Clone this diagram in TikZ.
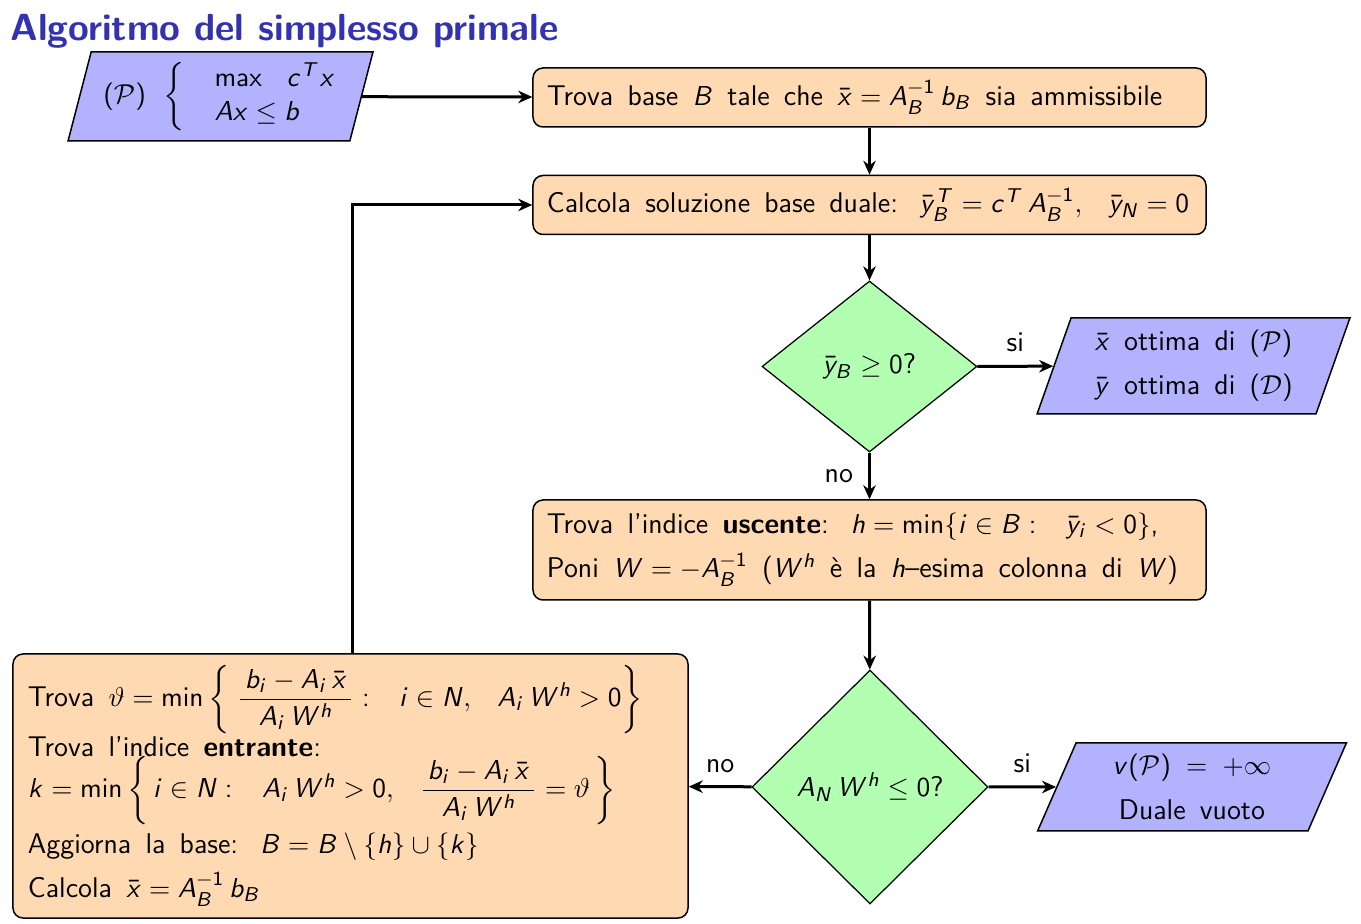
\documentclass[tikz,border=0pt]{standalone}
\usepackage{amsmath,amssymb}
\usetikzlibrary{shapes.geometric,arrows.meta}
\SetSymbolFont{operators}{normal}{OT1}{cmss}{m}{n}
\SetSymbolFont{operators}{bold}{OT1}{cmss}{bx}{n}
\DeclareSymbolFont{sfit}{OT1}{cmss}{m}{sl}
\newcommand\sfl[1]{\DeclareMathSymbol{#1}{\mathalpha}{sfit}{`#1}}
\sfl a\sfl b\sfl c\sfl d\sfl e\sfl f\sfl g\sfl h\sfl i\sfl j\sfl k\sfl l\sfl m
\sfl n\sfl o\sfl p\sfl q\sfl r\sfl s\sfl t\sfl u\sfl v\sfl w\sfl x\sfl y\sfl z
\sfl A\sfl B\sfl C\sfl D\sfl E\sfl F\sfl G\sfl H\sfl I\sfl J\sfl K\sfl L\sfl M
\sfl N\sfl O\sfl P\sfl Q\sfl R\sfl S\sfl T\sfl U\sfl V\sfl W\sfl X\sfl Y\sfl Z
\renewcommand{\familydefault}{\sfdefault}
\definecolor{titleblue}{rgb}{0.2,0.2,0.7}
\newcommand\wsp{\spaceskip=0.5em plus 0.1em minus 0.05em\relax}
\newcommand\gapm{\ \;}
\begin{document}
\begin{tikzpicture}[x=0.4pt,y=-0.4pt,
  font=\fontsize{11.4}{13.7}\selectfont\sffamily,
  proc/.style={rectangle, rounded corners=4pt, draw=black, line width=0.6pt, fill=orange!30,
    inner xsep=5.6pt, inner ysep=0pt, align=left, execute at begin node=\wsp},
  dec/.style={diamond, draw=black, line width=0.5pt, fill=green!30, inner sep=0pt, execute at begin node=\wsp},
  io/.style={trapezium, trapezium stretches=true, draw=black, line width=0.6pt, fill=blue!30,
    inner sep=0pt, align=center, execute at begin node=\wsp},
  arr/.style={line width=1.2pt, -{Stealth[length=5.6pt,width=5pt,inset=1.8pt]}},
  lbl/.style={inner sep=1pt}]
\useasboundingbox (0,0) rectangle (1361,924);

\node[anchor=base west, inner sep=0pt, text=titleblue, font=\fontsize{15.1}{18}\selectfont\bfseries\sffamily] (title) at (10,41) {Algoritmo del simplesso primale};

\node[io, trapezium left angle=73, trapezium right angle=107, minimum width=122pt, minimum height=35.6pt] (P) at (220.5,96.5)
  {$(\mathcal{P})\hspace{0.45em}\left\{\hspace{1.05em}\begin{array}{@{}l@{}}\max\hspace{0.7em}c^T x\\ Ax\le b\end{array}\right.$};

\node[proc, text width=258pt, minimum height=23.6pt] (b1) at (869.5,97.5)
  {Trova base $B$ tale che $\bar x = A_B^{-1}\,b_B$ sia ammissibile};
\node[proc, text width=258pt, minimum height=23.6pt] (b2) at (869.5,205)
  {Calcola soluzione base duale:\ $\;\bar y_B^T = c^T\,A_B^{-1},\gapm\bar y_N = 0$};

\node[dec, minimum width=86pt, minimum height=68.4pt] (d1) at (869.5,366.5) {$\bar y_B\ge 0$?};

\node[io, trapezium left angle=69, trapezium right angle=111, minimum width=125.2pt, minimum height=38.4pt] (o1) at (1193.5,366)
  {$\bar x$ ottima di $(\mathcal{P})$\\[4pt] $\bar y$ ottima di $(\mathcal{D})$};

\node[proc, text width=258pt, minimum height=40pt] (b3) at (869.5,550)
  {Trova l'indice \textbf{uscente}:\ $\;h=\min\{i\in B:\gapm\bar y_i<0\}$,\\[4pt]
   Poni $W=-A_B^{-1}$ ($W^h$ \`e la $h$--esima colonna di $W$)};

\node[dec, minimum width=94.4pt, minimum height=93.6pt] (d2) at (870,787) {$A_N\,W^h\le 0$?};

\node[io, trapezium left angle=68, trapezium right angle=112, minimum width=124pt, minimum height=35.2pt] (o2) at (1192,787)
  {$v(\mathcal{P})\;=\;+\infty$\\[4pt] Duale vuoto};

\node[proc, text width=258pt, inner xsep=6pt, minimum height=105.6pt] (b4) at (350.5,786)
  {Trova $\vartheta=\min\left\{\;\dfrac{\,b_i-A_i\,\bar x\,}{A_i\,W^h}:\gapm i\in N,\gapm A_i\,W^h>0\right\}$\\[0pt]
   Trova l'indice \textbf{entrante}:\\[-1pt]
   $k=\min\left\{\,i\in N:\gapm A_i\,W^h>0,\gapm \dfrac{\,b_i-A_i\,\bar x\,}{A_i\,W^h}=\vartheta\,\right\}$\\[2pt]
   Aggiorna la base:\ $\;B=B\setminus\{h\}\cup\{k\}$\\[4pt]
   Calcola $\bar x=A_B^{-1}\,b_B$};

\coordinate (loop) at (352,205);

\draw[arr] (P) -- (b1);
\draw[arr] (b1) -- (b2);
\draw[arr] (b2) -- (d1);
\draw[arr] (d1) -- node[lbl, above=4pt] {si} (o1);
\draw[arr] (d1) -- node[lbl, left=5pt] {no} (b3);
\draw[arr] (b3) -- (d2);
\draw[arr] (d2) -- node[lbl, above=4pt] {si} (o2);
\draw[arr] (d2) -- node[lbl, above=4pt] {no} (b4);
\draw[arr] (b4.north -| loop) |- (b2.west);
\end{tikzpicture}
\end{document}
